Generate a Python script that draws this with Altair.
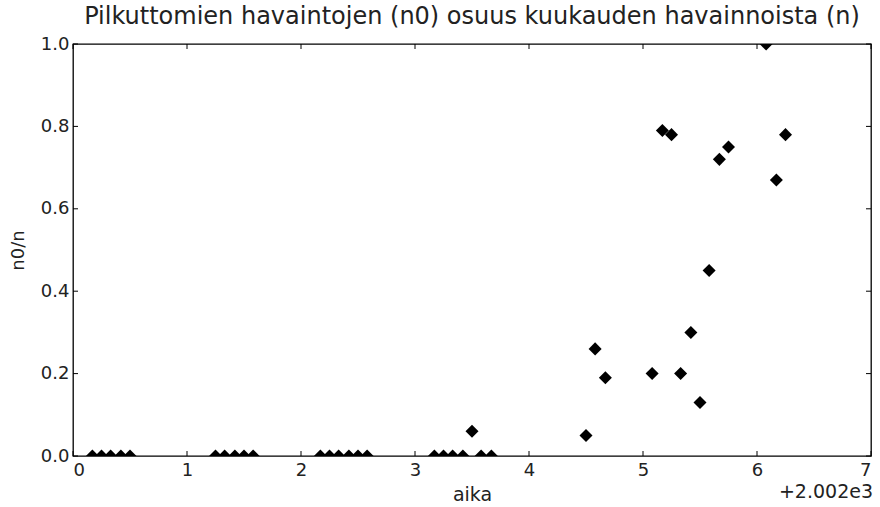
import altair as alt
import pandas as pd

# Data (time offset by 2002, fraction n0/n)
aika = [0.17, 0.25, 0.33, 0.42, 0.50,
        1.25, 1.33, 1.42, 1.50, 1.58,
        2.17, 2.25, 2.33, 2.42, 2.50, 2.58,
        3.17, 3.25, 3.33, 3.42, 3.50, 3.58, 3.67,
        4.50, 4.58, 4.67,
        5.08, 5.17, 5.25, 5.33, 5.42, 5.50, 5.58, 5.67, 5.75,
        6.08, 6.17, 6.25]
osuus = [0, 0, 0, 0, 0,
         0, 0, 0, 0, 0,
         0, 0, 0, 0, 0, 0,
         0, 0, 0, 0, 0.06, 0, 0,
         0.05, 0.26, 0.19,
         0.20, 0.79, 0.78, 0.20, 0.30, 0.13, 0.45, 0.72, 0.75,
         1.00, 0.67, 0.78]

x_ticks = [0, 1, 2, 3, 4, 5, 6, 7]
y_ticks = [0.0, 0.2, 0.4, 0.6, 0.8, 1.0]
offset_label = ["+2.002e3"]
title_text = "Pilkuttomien havaintojen (n0) osuus kuukauden havainnoista (n)"

W, H = 798, 412
FONT = "DejaVu Sans"
TXT = "#222222"

df = pd.DataFrame({"aika": aika, "osuus": osuus})
xt = pd.DataFrame({"aika": x_ticks})
yt = pd.DataFrame({"osuus": y_ticks})
off = pd.DataFrame({"t": offset_label})

xscale = alt.Scale(domain=[0, 7], nice=False, zero=False)
yscale = alt.Scale(domain=[0, 1], nice=False)

points = alt.Chart(df).mark_point(
    shape="diamond", filled=True, color="black", size=170, opacity=1, clip=True
).encode(
    x=alt.X("aika:Q", scale=xscale,
            axis=alt.Axis(title="aika", values=x_ticks, format="d", grid=False,
                          ticks=False, domain=False, labelPadding=5,
                          labelFont=FONT, labelFontSize=18, labelColor=TXT,
                          titleFont=FONT, titleFontSize=19, titleFontWeight="normal",
                          titleColor=TXT, titleBaseline="alphabetic", titleY=44)),
    y=alt.Y("osuus:Q", scale=yscale,
            axis=alt.Axis(title="n0/n", values=y_ticks, format=".1f", grid=False,
                          ticks=False, domain=False, labelPadding=4,
                          labelFont=FONT, labelFontSize=18, labelColor=TXT,
                          titleFont=FONT, titleFontSize=18, titleFontWeight="normal",
                          titleColor=TXT, titleX=-46, titleY=H / 2)),
)

tick_len = 5
xt_bottom = alt.Chart(xt).mark_rule(color="black", strokeWidth=1).encode(
    x=alt.X("aika:Q", scale=xscale), y=alt.value(H), y2=alt.value(H - tick_len))
xt_top = alt.Chart(xt).mark_rule(color="black", strokeWidth=1).encode(
    x=alt.X("aika:Q", scale=xscale), y=alt.value(0), y2=alt.value(tick_len))
yt_left = alt.Chart(yt).mark_rule(color="black", strokeWidth=1).encode(
    y=alt.Y("osuus:Q", scale=yscale), x=alt.value(0), x2=alt.value(tick_len))
yt_right = alt.Chart(yt).mark_rule(color="black", strokeWidth=1).encode(
    y=alt.Y("osuus:Q", scale=yscale), x=alt.value(W), x2=alt.value(W - tick_len))

offset_text = alt.Chart(off).mark_text(
    align="right", baseline="alphabetic", font=FONT, fontSize=19, color=TXT
).encode(text="t:N", x=alt.value(W + 2), y=alt.value(H + 42))

chart = alt.layer(points, xt_bottom, xt_top, yt_left, yt_right, offset_text).properties(
    width=W, height=H,
    title=alt.TitleParams(title_text, font=FONT, fontSize=24, fontWeight="normal",
                          color=TXT, anchor="middle", offset=6),
    autosize=alt.AutoSizeParams(type="none"),
    padding={"left": 73, "top": 44, "right": 9, "bottom": 51},
    background="white",
).configure_view(stroke="black", strokeWidth=1.3)

chart.save("out.html", embed_options={"renderer": "svg", "actions": False})
